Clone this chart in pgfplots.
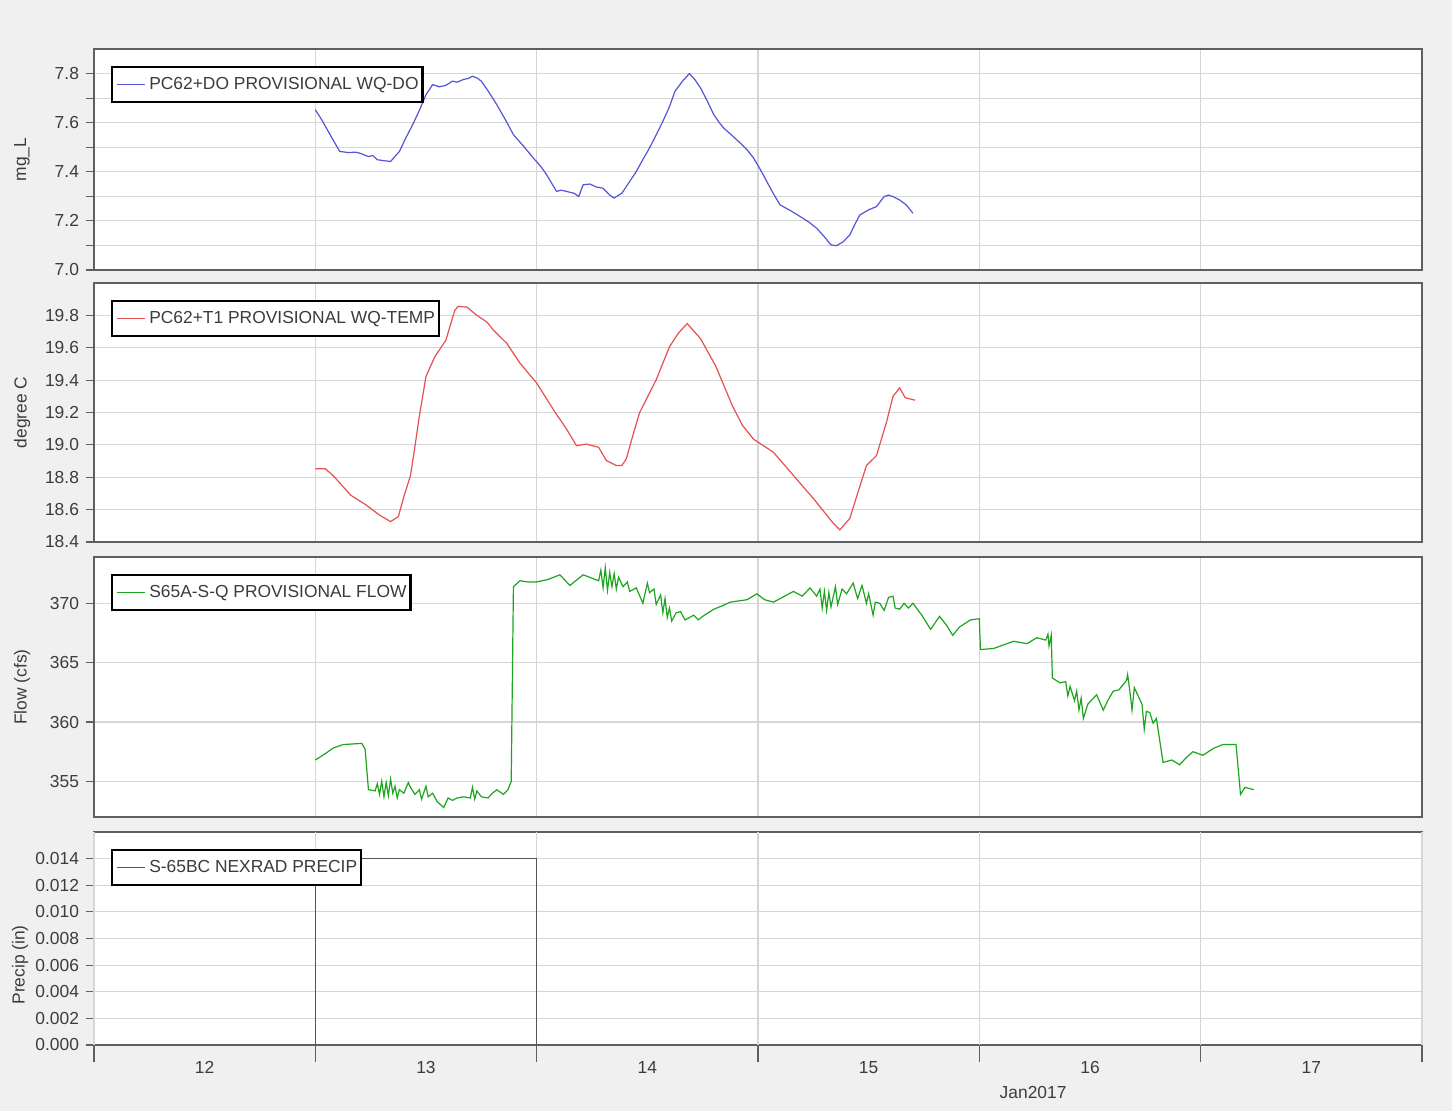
\documentclass[border=0pt]{standalone}
\usepackage{fontspec}
\setmainfont{Liberation Sans}
\usepackage{pgfplots}
\pgfplotsset{compat=1.18}
\definecolor{bg}{RGB}{240,240,240}
\definecolor{axisgray}{RGB}{95,95,95}
\definecolor{gridgray}{RGB}{214,214,214}
\definecolor{textgray}{RGB}{60,60,60}
\definecolor{doblue}{RGB}{85,85,215}
\definecolor{tred}{RGB}{230,80,80}
\definecolor{fgreen}{RGB}{30,165,30}
\definecolor{pgray}{RGB}{85,85,85}
\newcommand\lf{\fontsize{8.7}{10}\selectfont}
\newcommand\legtxt[1]{\mbox{#1\kern-2pt}}
\pgfplotsset{
  panel/.style={
    scale only axis, width=664pt, xmin=12, xmax=18,
    anchor=north west,
    axis background/.style={fill=white},
    axis line style={draw=axisgray, line width=0.8pt},
    xtick={12,13,14,15,16,17,18}, xticklabels={},
    xmajorgrids, ymajorgrids,
    major grid style={gridgray, line width=0.6pt},
    minor grid style={gridgray, line width=0.6pt},
    xtick style={draw=none},
    ytick style={draw=axisgray, line width=0.6pt},
    tick align=outside, major tick length=4pt, minor tick length=4pt,
    xtick pos=bottom, ytick pos=left,
    ticklabel style={font=\lf, text=textgray},
    /pgf/number format/assume math mode=true,
    every axis y label/.style={at={(axis description cs:-0.0542,0.5)}, rotate=90, anchor=center, font=\lf, text=textgray},
    legend style={at={(0,1)}, anchor=north west, xshift=8.5pt, yshift=-8.5pt,
      draw=black, line width=1.1pt, fill=white, font=\lf, text=textgray,
      inner xsep=2pt, inner ysep=3pt, cells={anchor=west}},
    legend image code/.code={\draw[#1, line width=0.6pt] (0pt,0pt) -- (14pt,0pt);},
    clip=true,
  }
}
\begin{document}
\begin{tikzpicture}
\fill[bg] (0,0) rectangle (726pt,-555.5pt);
\useasboundingbox (0,0) rectangle (726pt,-555.5pt);

% Panel 1: DO
\begin{axis}[panel, at={(47pt,-24.5pt)}, height=110.5pt,
  ymin=7.0, ymax=7.9, ytick={7.0,7.2,7.4,7.6,7.8}, minor ytick={7.1,7.3,7.5,7.7}, yminorgrids,
  yticklabel style={/pgf/number format/fixed, /pgf/number format/fixed zerofill, /pgf/number format/precision=1},
  ylabel={mg\_L}]
\addplot[doblue, line width=0.6pt] coordinates {
(13.00,7.653) (13.03,7.610) (13.05,7.578) (13.08,7.530) (13.11,7.483) (13.15,7.478) (13.18,7.480) (13.20,7.476)
(13.24,7.462) (13.26,7.466) (13.28,7.449) (13.31,7.445) (13.34,7.442) (13.38,7.483) (13.41,7.540) (13.44,7.592)
(13.47,7.650) (13.50,7.714) (13.53,7.755) (13.56,7.746) (13.59,7.752) (13.62,7.769) (13.64,7.765) (13.67,7.776)
(13.69,7.780) (13.71,7.789) (13.73,7.782) (13.75,7.769) (13.78,7.730) (13.82,7.673) (13.86,7.610) (13.895,7.551)
(13.94,7.505) (13.985,7.456) (14.02,7.420) (14.045,7.388) (14.07,7.350) (14.09,7.320) (14.11,7.325) (14.135,7.320)
(14.17,7.312) (14.19,7.299) (14.21,7.347) (14.24,7.350) (14.27,7.338) (14.30,7.333) (14.33,7.305) (14.35,7.293)
(14.385,7.313) (14.42,7.360) (14.45,7.401) (14.48,7.450) (14.51,7.497) (14.54,7.550) (14.57,7.605) (14.60,7.665)
(14.625,7.728) (14.66,7.770) (14.69,7.800) (14.715,7.775) (14.74,7.742) (14.77,7.690) (14.80,7.633) (14.825,7.600)
(14.845,7.578) (14.88,7.550) (14.92,7.517) (14.95,7.490) (14.98,7.456) (15.01,7.410) (15.04,7.360) (15.07,7.310)
(15.10,7.265) (15.15,7.240) (15.19,7.218) (15.23,7.195) (15.265,7.170) (15.30,7.135) (15.33,7.102) (15.355,7.099)
(15.385,7.115) (15.415,7.143) (15.44,7.190) (15.46,7.224) (15.50,7.245) (15.535,7.258) (15.57,7.299) (15.59,7.305)
(15.61,7.299) (15.64,7.285) (15.67,7.265) (15.70,7.231)
};
\addlegendentry{\legtxt{PC62+DO PROVISIONAL WQ-DO}}
\end{axis}

% Panel 2: Temperature
\begin{axis}[panel, at={(47pt,-141.5pt)}, height=129.5pt,
  ymin=18.4, ymax=20.0, ytick={18.4,18.6,18.8,19.0,19.2,19.4,19.6,19.8},
  yticklabel style={/pgf/number format/fixed, /pgf/number format/fixed zerofill, /pgf/number format/precision=1},
  ylabel={degree C}]
\addplot[tred, line width=0.6pt] coordinates {
(13.00,18.852) (13.045,18.852) (13.08,18.811) (13.12,18.750) (13.16,18.689) (13.23,18.628) (13.29,18.566)
(13.34,18.526) (13.375,18.557) (13.40,18.680) (13.43,18.811) (13.45,18.990) (13.47,19.178) (13.50,19.423)
(13.54,19.545) (13.59,19.647) (13.61,19.740) (13.63,19.831) (13.645,19.855) (13.685,19.851) (13.73,19.800)
(13.775,19.759) (13.805,19.708) (13.865,19.627) (13.925,19.504) (14.00,19.382) (14.075,19.219) (14.135,19.097)
(14.18,18.995) (14.225,19.005) (14.28,18.985) (14.315,18.903) (14.36,18.872) (14.385,18.872) (14.405,18.913)
(14.435,19.060) (14.465,19.199) (14.54,19.402) (14.60,19.606) (14.64,19.690) (14.68,19.749) (14.74,19.657)
(14.81,19.484) (14.885,19.239) (14.93,19.120) (14.98,19.035) (15.07,18.954) (15.16,18.811) (15.25,18.669)
(15.34,18.516) (15.37,18.475) (15.415,18.546) (15.45,18.700) (15.49,18.872) (15.535,18.933) (15.58,19.138)
(15.61,19.300) (15.64,19.352) (15.665,19.291) (15.71,19.276)
};
\addlegendentry{\legtxt{PC62+T1 PROVISIONAL WQ-TEMP}}
\end{axis}

% Panel 3: Flow
\begin{axis}[panel, at={(47pt,-278.5pt)}, height=130pt,
  ymin=352.0, ymax=373.9, ytick={355,360,365,370},
  ylabel={Flow (cfs)}]
\addplot[fgreen, line width=0.6pt] coordinates {
(13.000,356.8) (13.05,357.4) (13.08,357.8) (13.125,358.1) (13.21,358.2) (13.225,357.7) (13.24,354.3) (13.27,354.2)
(13.28,354.8) (13.29,353.9) (13.30,355.0) (13.31,353.7) (13.32,354.9) (13.33,353.8) (13.34,355.2) (13.35,354.0)
(13.36,354.6) (13.37,353.6) (13.38,354.3) (13.40,354.0) (13.42,354.9) (13.43,354.5) (13.45,353.9) (13.47,354.3)
(13.48,353.5) (13.50,354.6) (13.51,353.7) (13.53,354.0) (13.55,353.3) (13.58,352.8) (13.60,353.6) (13.62,353.4)
(13.64,353.6) (13.67,353.7) (13.70,353.6) (13.71,354.5) (13.72,353.5) (13.73,354.2) (13.75,353.7) (13.78,353.6)
(13.80,354.0) (13.82,354.3) (13.85,353.9) (13.87,354.3) (13.885,355.0) (13.895,371.4) (13.925,371.9) (13.96,371.8)
(14.00,371.8) (14.05,372.0) (14.105,372.4) (14.15,371.5) (14.21,372.4) (14.28,371.9) (14.29,372.8) (14.30,371.3)
(14.31,373.0) (14.32,371.1) (14.33,372.6) (14.34,371.4) (14.35,372.5) (14.36,371.2) (14.37,372.2) (14.39,371.4)
(14.41,371.8) (14.42,371.0) (14.45,371.3) (14.48,370.0) (14.50,371.7) (14.51,370.9) (14.53,371.2) (14.54,369.9)
(14.56,370.7) (14.57,369.2) (14.58,370.4) (14.59,368.8) (14.60,369.6) (14.61,368.5) (14.63,369.2) (14.65,369.3)
(14.67,368.6) (14.71,369.0) (14.73,368.6) (14.75,368.9) (14.80,369.5) (14.84,369.8) (14.875,370.1) (14.95,370.3)
(14.995,370.8) (15.03,370.3) (15.07,370.1) (15.12,370.6) (15.16,371.0) (15.20,370.6) (15.235,371.3) (15.265,370.6)
(15.28,371.2) (15.29,369.6) (15.30,371.0) (15.31,369.4) (15.32,370.9) (15.33,369.7) (15.35,371.4) (15.36,369.9)
(15.38,371.2) (15.40,370.8) (15.43,371.7) (15.45,370.4) (15.47,371.5) (15.49,370.0) (15.50,370.8) (15.52,369.0)
(15.53,370.1) (15.55,370.0) (15.57,369.4) (15.59,370.5) (15.61,370.6) (15.62,369.6) (15.64,369.5) (15.66,370.0)
(15.68,369.6) (15.70,370.0) (15.74,369.0) (15.78,367.8) (15.82,368.9) (15.85,368.2) (15.88,367.3) (15.91,368.0)
(15.96,368.6) (16.00,368.7) (16.005,366.1) (16.065,366.2) (16.155,366.8) (16.215,366.6) (16.26,367.1) (16.30,366.9)
(16.31,367.4) (16.315,366.4) (16.325,367.3) (16.33,363.7) (16.365,363.3) (16.39,363.4) (16.40,362.2) (16.41,363.0)
(16.43,361.8) (16.44,362.6) (16.45,361.0) (16.46,362.0) (16.47,360.3) (16.49,361.5) (16.51,361.9) (16.53,362.3)
(16.56,361.0) (16.58,361.8) (16.605,362.6) (16.63,362.7) (16.665,363.5) (16.67,364.0) (16.68,362.6) (16.69,361.0)
(16.70,362.9) (16.72,362.1) (16.735,361.5) (16.745,359.4) (16.755,360.9) (16.77,360.8) (16.785,359.9) (16.80,360.3)
(16.83,356.6) (16.87,356.8) (16.905,356.4) (16.935,357.0) (16.965,357.5) (17.01,357.2) (17.06,357.8) (17.10,358.1)
(17.16,358.1) (17.18,353.9) (17.20,354.5) (17.24,354.3)
};
\addlegendentry{\legtxt{S65A-S-Q PROVISIONAL FLOW}}
\end{axis}

% Panel 4: Precip
\begin{axis}[panel, at={(47pt,-416pt)}, height=106.5pt,
  ymin=0, ymax=0.016, ytick={0,0.002,0.004,0.006,0.008,0.010,0.012,0.014},
  scaled y ticks=false,
  yticklabel style={/pgf/number format/fixed, /pgf/number format/fixed zerofill, /pgf/number format/precision=3},
  every axis y label/.append style={at={(axis description cs:-0.0557,0.376)}},
  ylabel={Precip (in)},
  xmajorgrids=false,
  xtick={12.5,13.5,14.5,15.5,16.5,17.5},
  xticklabels={12,13,14,15,16,17},
  xticklabel style={yshift=-0.5pt},
  extra x ticks={12,13,14,15,16,17,18},
  extra x tick labels={},
  extra x tick style={grid=major, xtick style={draw=axisgray, line width=0.6pt}, major tick length=8.5pt},
  clip=false]
\addplot[pgray, line width=0.7pt] coordinates {(13,0) (13,0.014) (14,0.014) (14,0)};
\addlegendentry{\legtxt{S-65BC NEXRAD PRECIP}}
\node[font=\lf, text=textgray] at (axis cs:16.243,0) [yshift=-24pt] {Jan2017};
\end{axis}
\end{tikzpicture}
\end{document}
